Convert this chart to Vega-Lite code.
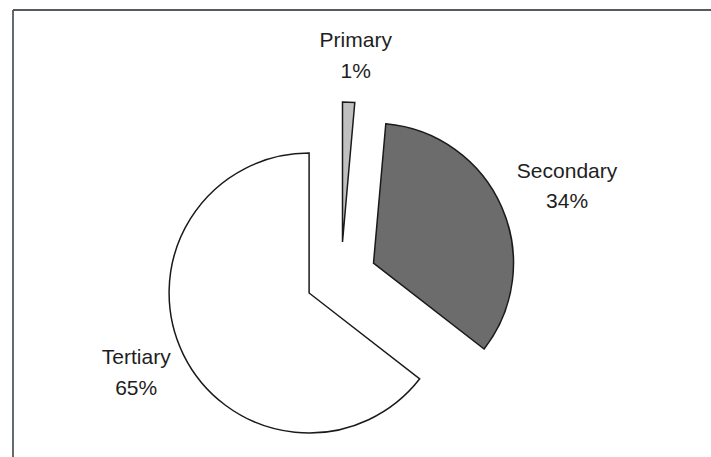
{
  "$schema": "https://vega.github.io/schema/vega-lite/v6.json",
  "width": 698,
  "height": 447,
  "autosize": {"type": "none"},
  "padding": {"left": 13, "top": 10, "right": 0, "bottom": 0},
  "background": "#ffffff",
  "config": {
    "view": {"stroke": null},
    "text": {"font": "Liberation Sans"}
  },
  "data": {
    "values": [
      {"sector": "Primary", "value": 1.4, "label": "Primary\n1%"},
      {"sector": "Secondary", "value": 34.1, "label": "Secondary\n34%"},
      {"sector": "Tertiary", "value": 64.5, "label": "Tertiary\n65%"}
    ]
  },
  "layer": [
    {
      "data": {"values": [{}]},
      "mark": {"type": "rule", "stroke": "#555a60", "strokeWidth": 1.8},
      "encoding": {"x": {"value": 0}, "x2": {"value": "width"}, "y": {"value": 0}}
    },
    {
      "data": {"values": [{}]},
      "mark": {"type": "rule", "stroke": "#555a60", "strokeWidth": 1.8},
      "encoding": {"x": {"value": 0}, "y": {"value": 0}, "y2": {"value": "height"}}
    },
    {
      "mark": {"type": "arc", "x": 296.1, "y": 283, "radius": 140, "stroke": "#1a1a1a", "strokeWidth": 1.5, "strokeJoin": "miter"},
      "encoding": {
        "theta": {"field": "value", "type": "quantitative", "stack": true},
        "order": {"field": "sector", "type": "ordinal", "sort": "ascending"},
        "color": {"field": "sector", "type": "nominal", "scale": {"domain": ["Primary", "Secondary", "Tertiary"], "range": ["#c0c0c0", "#6c6c6c", "#ffffff"]}, "legend": null},
        "opacity": {"condition": {"test": "datum.sector === 'Tertiary'", "value": 1}, "value": 0}
      }
    },
    {
      "mark": {"type": "arc", "x": 360.5, "y": 253.2, "radius": 140, "stroke": "#1a1a1a", "strokeWidth": 1.5, "strokeJoin": "miter"},
      "encoding": {
        "theta": {"field": "value", "type": "quantitative", "stack": true},
        "order": {"field": "sector", "type": "ordinal", "sort": "ascending"},
        "color": {"field": "sector", "type": "nominal", "legend": null},
        "opacity": {"condition": {"test": "datum.sector === 'Secondary'", "value": 1}, "value": 0}
      }
    },
    {
      "mark": {"type": "arc", "x": 329.5, "y": 232, "radius": 140, "stroke": "#1a1a1a", "strokeWidth": 1.5, "strokeJoin": "miter"},
      "encoding": {
        "theta": {"field": "value", "type": "quantitative", "stack": true},
        "order": {"field": "sector", "type": "ordinal", "sort": "ascending"},
        "color": {"field": "sector", "type": "nominal", "legend": null},
        "opacity": {"condition": {"test": "datum.sector === 'Primary'", "value": 1}, "value": 0}
      }
    },
    {
      "mark": {"type": "text", "x": 328, "y": 267.4, "radius": 222.4, "dx": 5, "dy": -14, "lineBreak": "\n", "lineHeight": 30.5, "fontSize": 21, "align": "center", "baseline": "middle", "color": "#1e1e1e"},
      "encoding": {
        "theta": {"field": "value", "type": "quantitative", "stack": true},
        "order": {"field": "sector", "type": "ordinal", "sort": "ascending"},
        "text": {"field": "label", "type": "nominal"},
        "opacity": {"condition": {"test": "datum.sector === 'Primary'", "value": 1}, "value": 0}
      }
    },
    {
      "mark": {"type": "text", "x": 328, "y": 267.4, "radius": 243.8, "dx": 2.6, "dy": -7.9, "lineBreak": "\n", "lineHeight": 30.5, "fontSize": 21, "align": "center", "baseline": "middle", "color": "#1e1e1e"},
      "encoding": {
        "theta": {"field": "value", "type": "quantitative", "stack": true},
        "order": {"field": "sector", "type": "ordinal", "sort": "ascending"},
        "text": {"field": "label", "type": "nominal"},
        "opacity": {"condition": {"test": "datum.sector === 'Secondary'", "value": 1}, "value": 0}
      }
    },
    {
      "mark": {"type": "text", "x": 328, "y": 267.4, "radius": 225.6, "dx": -2.2, "dy": -18.6, "lineBreak": "\n", "lineHeight": 30.5, "fontSize": 21, "align": "center", "baseline": "middle", "color": "#1e1e1e"},
      "encoding": {
        "theta": {"field": "value", "type": "quantitative", "stack": true},
        "order": {"field": "sector", "type": "ordinal", "sort": "ascending"},
        "text": {"field": "label", "type": "nominal"},
        "opacity": {"condition": {"test": "datum.sector === 'Tertiary'", "value": 1}, "value": 0}
      }
    }
  ]
}
